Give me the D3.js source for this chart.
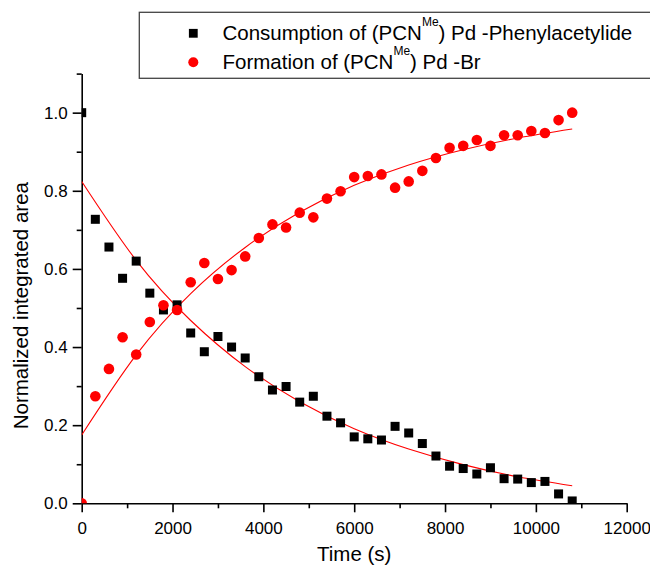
<!DOCTYPE html>
<html>
<head>
<meta charset="utf-8">
<script src="https://cdn.jsdelivr.net/npm/d3@7"></script>
<style>
  body { margin: 0; background: #fff; }
  svg { display: block; font-family: "Liberation Sans", Arial, sans-serif; }
</style>
</head>
<body>
<div id="chart"></div>
<script>
'use strict';

// sampling times (s)
var times = [0, 300, 600, 900, 1200, 1500, 1800, 2100, 2400, 2700, 3000, 3300, 3600, 3900,
  4200, 4500, 4800, 5100, 5400, 5700, 6000, 6300, 6600, 6900, 7200, 7500, 7800, 8100,
  8400, 8700, 9000, 9300, 9600, 9900, 10200, 10500, 10800];

// (PCN^Me)Pd-phenylacetylide, normalized
var consumption = [1.0, 0.727, 0.656, 0.576, 0.620, 0.538, 0.495, 0.508, 0.436, 0.388, 0.427,
  0.400, 0.372, 0.324, 0.290, 0.299, 0.259, 0.274, 0.223, 0.206, 0.170, 0.165, 0.162, 0.197,
  0.180, 0.153, 0.121, 0.095, 0.089, 0.075, 0.091, 0.063, 0.062, 0.053, 0.056, 0.024, 0.006];

// (PCN^Me)Pd-Br, normalized
var formation = [0.0, 0.274, 0.344, 0.425, 0.381, 0.464, 0.507, 0.495, 0.566, 0.615, 0.574,
  0.597, 0.632, 0.679, 0.714, 0.706, 0.744, 0.732, 0.780, 0.799, 0.835, 0.838, 0.842, 0.808,
  0.824, 0.851, 0.884, 0.910, 0.915, 0.930, 0.915, 0.942, 0.942, 0.953, 0.948, 0.981, 1.0];

// fitted curves
var fitTimes = [0, 1200, 2400, 3600, 4800, 6000, 7200, 8400, 9600, 10800];
var consumptionFit = [0.824, 0.622, 0.468, 0.350, 0.260, 0.191, 0.139, 0.099, 0.068, 0.045];
var formationFit = [0.175, 0.380, 0.537, 0.655, 0.745, 0.814, 0.866, 0.905, 0.935, 0.958];

var xMajor = [0, 2000, 4000, 6000, 8000, 10000, 12000],
    xMinor = [1000, 3000, 5000, 7000, 9000, 11000],
    yMajor = [0, 0.2, 0.4, 0.6, 0.8, 1.0],
    yMinor = [0.1, 0.3, 0.5, 0.7, 0.9, 1.1];

var width = 650,
    height = 566;

var margin = {top: 73.6, right: 23.3, bottom: 62.7, left: 81.7},
    chartWidth = width - margin.left - margin.right,
    chartHeight = height - margin.top - margin.bottom;

var svg = d3.select('#chart').append('svg')
  .attr('width', width)
  .attr('height', height);

var x = d3.scaleLinear()
  .domain([0, 12000])
  .range([0, chartWidth]);

var y = d3.scaleLinear()
  .domain([0, 1.1])
  .range([chartHeight, 0]);

svg.append('defs').append('clipPath')
  .attr('id', 'plot-clip')
  .append('rect')
  .attr('width', chartWidth)
  .attr('height', chartHeight);

var chart = svg.append('g')
  .attr('transform', 'translate(' + margin.left + ',' + margin.top + ')');

// axes
var xAxis = d3.axisBottom(x)
  .tickValues(xMajor)
  .tickFormat(d3.format('d'))
  .tickSize(9)
  .tickPadding(9.4)
  .tickSizeOuter(0);

var xAxisMinor = d3.axisBottom(x)
  .tickValues(xMinor)
  .tickFormat('')
  .tickSize(5)
  .tickSizeOuter(0);

var yAxis = d3.axisLeft(y)
  .tickValues(yMajor)
  .tickFormat(d3.format('.1f'))
  .tickSize(9)
  .tickPadding(5)
  .tickSizeOuter(0);

var yAxisMinor = d3.axisLeft(y)
  .tickValues(yMinor)
  .tickFormat('')
  .tickSize(5)
  .tickSizeOuter(0);

var gx = chart.append('g')
  .attr('transform', 'translate(0,' + chartHeight + ')')
  .call(xAxis);
chart.append('g')
  .attr('transform', 'translate(0,' + chartHeight + ')')
  .call(xAxisMinor)
  .select('.domain').remove();

var gy = chart.append('g').call(yAxis);
chart.append('g').call(yAxisMinor)
  .select('.domain').remove();

chart.selectAll('.domain, .tick line')
  .attr('stroke', '#000')
  .attr('stroke-width', 1.6);

chart.selectAll('.tick text')
  .attr('fill', '#000')
  .style('font-size', '17px');

// fit lines
var line = d3.line()
  .x(function (d) { return x(d[0]); })
  .y(function (d) { return y(d[1]); })
  .curve(d3.curveNatural);

var plot = chart.append('g').attr('clip-path', 'url(#plot-clip)');

[consumptionFit, formationFit].forEach(function (vals) {
  plot.append('path')
    .datum(fitTimes.map(function (t, i) { return [t, vals[i]]; }))
    .attr('fill', 'none')
    .attr('stroke', '#ff0000')
    .attr('stroke-width', 1.1)
    .attr('d', line);
});

// markers
var sq = 9;
plot.selectAll('rect.consumption')
  .data(times.map(function (t, i) { return [t, consumption[i]]; }))
  .enter().append('rect')
  .attr('class', 'consumption')
  .attr('x', function (d) { return x(d[0]) - sq / 2; })
  .attr('y', function (d) { return y(d[1]) - sq / 2; })
  .attr('width', sq)
  .attr('height', sq)
  .attr('fill', '#000');

plot.selectAll('circle.formation')
  .data(times.map(function (t, i) { return [t, formation[i]]; }))
  .enter().append('circle')
  .attr('class', 'formation')
  .attr('cx', function (d) { return x(d[0]); })
  .attr('cy', function (d) { return y(d[1]); })
  .attr('r', 5.3)
  .attr('fill', '#ff0000');

// axis titles
svg.append('text')
  .attr('x', margin.left + chartWidth / 2)
  .attr('y', 561)
  .attr('text-anchor', 'middle')
  .style('font-size', '20.5px')
  .text('Time (s)');

svg.append('text')
  .attr('transform', 'translate(28,' + (margin.top + chartHeight * 0.54) + ') rotate(-90)')
  .attr('text-anchor', 'middle')
  .style('font-size', '20.5px')
  .text('Normalized integrated area');

// legend
var legend = svg.append('g');

legend.append('rect')
  .attr('x', 139.3)
  .attr('y', 12.3)
  .attr('width', 600)
  .attr('height', 66)
  .attr('fill', '#fff')
  .attr('stroke', '#444')
  .attr('stroke-width', 1.3);

legend.append('rect')
  .attr('x', 193.3 - 4.4)
  .attr('y', 33.3 - 4.4)
  .attr('width', 8.8)
  .attr('height', 8.8)
  .attr('fill', '#000');

legend.append('circle')
  .attr('cx', 193.3)
  .attr('cy', 62.3)
  .attr('r', 5)
  .attr('fill', '#ff0000');

function legendText(yPos, before, after) {
  var t = legend.append('text')
    .attr('x', 222.5)
    .attr('y', yPos)
    .style('font-size', '20.5px');
  t.append('tspan').text(before);
  t.append('tspan')
    .attr('dy', -13.5)
    .style('font-size', '12px')
    .text('Me');
  t.append('tspan')
    .attr('dy', 13.5)
    .text(after);
}

legendText(39.5, 'Consumption of (PCN', ') Pd -Phenylacetylide');
legendText(68.5, 'Formation of (PCN', ') Pd -Br');
</script>
</body>
</html>
